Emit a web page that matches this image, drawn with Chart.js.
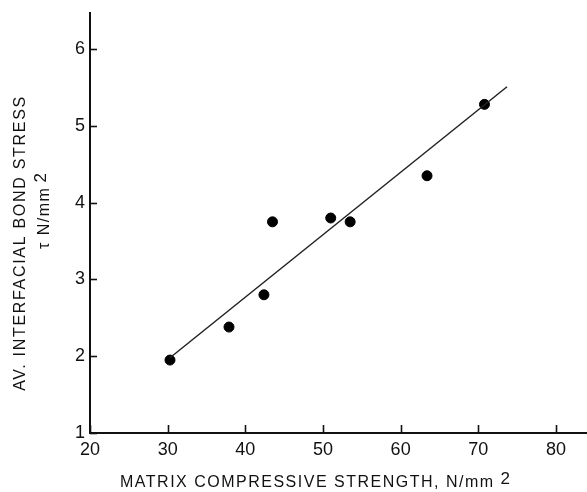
<!DOCTYPE html>
<html>
<head>
<meta charset="utf-8">
<script src="https://cdn.jsdelivr.net/npm/chart.js@4"></script>
<style>
html,body{margin:0;padding:0;background:#fff;}
#wrap{width:587px;height:492px;position:relative;}
</style>
</head>
<body>
<div id="wrap"><canvas id="c" width="587" height="492"></canvas></div>
<script>
// Data
const strength   = [30.3, 37.9, 42.4, 43.5, 51.0, 53.5, 63.4, 70.8];
const bondStress = [1.95, 2.38, 2.80, 3.75, 3.80, 3.75, 4.35, 5.28];
const fitX = [30.3, 73.7];
const fitY = [1.98, 5.51];
const xTicks = [20, 30, 40, 50, 60, 70, 80];
const yTicks = [1, 2, 3, 4, 5, 6];
const xTitle = "MATRIX COMPRESSIVE STRENGTH, N/mm";
const yTitle1 = "AV. INTERFACIAL BOND STRESS";
const yTitle2 = "\u03C4 N/mm";
const supText = "2";

const FONT = "'Liberation Sans', Arial, sans-serif";

const inwardTicks = {
  id: 'inwardTicks',
  afterDraw(chart) {
    const ctx = chart.ctx;
    const xs = chart.scales.x, ys = chart.scales.y;
    const a = chart.chartArea;
    ctx.save();
    ctx.strokeStyle = '#111';
    ctx.lineWidth = 1.6;
    xTicks.forEach(v => {
      const px = Math.round(xs.getPixelForValue(v)) + 0.5;
      ctx.beginPath(); ctx.moveTo(px, a.bottom); ctx.lineTo(px, a.bottom - 8); ctx.stroke();
    });
    yTicks.forEach(v => {
      const py = Math.round(ys.getPixelForValue(v)) + 0.5;
      ctx.beginPath(); ctx.moveTo(a.left, py); ctx.lineTo(a.left + 7, py); ctx.stroke();
    });
    // titles
    ctx.fillStyle = '#111';
    ctx.textBaseline = 'middle';
    ctx.textAlign = 'left';
    ctx.font = '16px ' + FONT;
    ctx.letterSpacing = '1.5px';
    ctx.fillText(xTitle, 120, 483);
    const w = ctx.measureText(xTitle).width;
    ctx.font = '17px ' + FONT;
    ctx.fillText(supText, 120 + w + 6, 479);
    // y title line 1
    ctx.save();
    ctx.translate(21, 243);
    ctx.rotate(-Math.PI / 2);
    ctx.textAlign = 'center';
    ctx.font = '16px ' + FONT;
    ctx.letterSpacing = '1.7px';
    ctx.fillText(yTitle1, 0, 0);
    ctx.restore();
    // y title line 2
    ctx.save();
    ctx.translate(45, 249);
    ctx.rotate(-Math.PI / 2);
    ctx.textAlign = 'left';
    ctx.font = '16px ' + FONT;
    ctx.letterSpacing = '1.5px';
    ctx.fillText(yTitle2, 0, 0);
    const w2 = ctx.measureText(yTitle2).width;
    ctx.font = '17px ' + FONT;
    ctx.fillText(supText, w2 + 4, -4);
    ctx.restore();
    ctx.restore();
  }
};

new Chart(document.getElementById('c'), {
  type: 'scatter',
  data: {
    datasets: [
      {
        type: 'line',
        data: fitX.map((x, i) => ({x: x, y: fitY[i]})),
        borderColor: '#222',
        borderWidth: 1.5,
        pointRadius: 0,
        fill: false,
        tension: 0
      },
      {
        data: strength.map((x, i) => ({x: x, y: bondStress[i]})),
        backgroundColor: '#000',
        borderColor: '#000',
        pointRadius: 5,
        pointHoverRadius: 5
      }
    ]
  },
  options: {
    responsive: false,
    animation: false,
    events: [],
    layout: { autoPadding: false, padding: { top: 13, right: 0, left: 0, bottom: 0 } },
    plugins: { legend: { display: false }, tooltip: { enabled: false } },
    scales: {
      x: {
        type: 'linear',
        min: 20, max: 84,
        afterFit(s) { s.height = 59; s.paddingRight = 0; s.paddingLeft = 0; },
        afterBuildTicks(s) { s.ticks = xTicks.map(v => ({value: v})); },
        grid: { display: true, drawOnChartArea: false, drawTicks: false },
        border: { display: true, color: '#111', width: 2 },
        ticks: { color: '#111', padding: 6, maxRotation: 0, font: { family: FONT, size: 18 } }
      },
      y: {
        type: 'linear',
        min: 1, max: 6.47,
        afterFit(s) { s.width = 90; s.paddingTop = 0; s.paddingBottom = 0; },
        afterBuildTicks(s) { s.ticks = yTicks.map(v => ({value: v})); },
        grid: { display: true, drawOnChartArea: false, drawTicks: false },
        border: { display: true, color: '#111', width: 2 },
        ticks: { color: '#111', padding: 5, font: { family: FONT, size: 18 } }
      }
    }
  },
  plugins: [inwardTicks]
});
</script>
</body>
</html>
